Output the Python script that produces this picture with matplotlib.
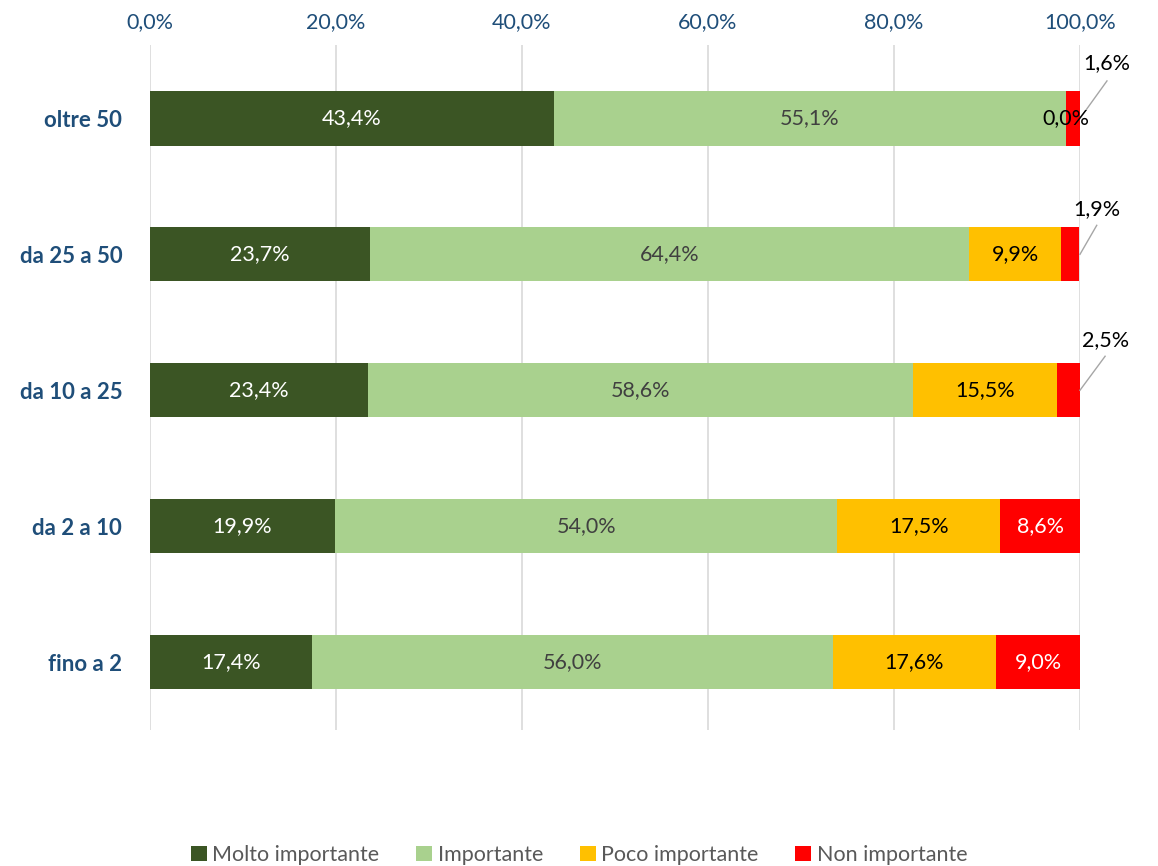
import numpy as np
import matplotlib
matplotlib.use("Agg")
import matplotlib.pyplot as plt

plt.rcParams['font.family'] = ['Lato', 'DejaVu Sans']

categories = ["fino a 2", "da 2 a 10", "da 10 a 25", "da 25 a 50", "oltre 50"]
series_names = ["Molto importante", "Importante", "Poco importante", "Non importante"]
molto = [17.4, 19.9, 23.4, 23.7, 43.4]
importante = [56.0, 54.0, 58.6, 64.4, 55.1]
poco = [17.6, 17.5, 15.5, 9.9, 0.0]
non = [9.0, 8.6, 2.5, 1.9, 1.6]
xticks = [0, 20, 40, 60, 80, 100]

colors = ["#3B5524", "#A9D18E", "#FFC000", "#FF0000"]
label_colors = ["white", "#404040", "black", "white"]
blue = "#1F4E79"
fs = 15.5

fig = plt.figure(figsize=(11.58, 8.66), dpi=100)
ax = fig.add_axes([150/1158, 1-730/866, 930/1158, (730-45)/866])

y = np.arange(len(categories))
left = np.zeros(len(categories))
for vals, name, col, lc in zip([molto, importante, poco, non], series_names, colors, label_colors):
    vals = np.array(vals)
    ax.barh(y, vals, left=left, height=0.4, color=col, label=name, zorder=3)
    for yi, l, v in zip(y, left, vals):
        txt = f"{v:.1f}%".replace(".", ",")
        # tiny red slices get an outside label below
        if name == "Non importante" and v < 5:
            continue
        ax.text(l + v/2, yi, txt, ha="center", va="center", fontsize=fs, color=lc, zorder=5)
    left = left + vals

# small red slices labelled outside with leader lines
outside = {4: (102.9, 4.41, 4 + (118.5-81)/136),
           3: (101.8, 3 + (254-209)/136, 3 + (254-225)/136),
           2: (102.7, 2 + (390-340)/136, 2 + (390-356)/136)}
for idx, (tx, ty, ly) in outside.items():
    v = non[idx]
    ax.plot([100, tx], [y[idx], ly], color="#A6A6A6", lw=1, zorder=4, clip_on=False)
    ax.text(tx, ty, f"{v:.1f}%".replace(".", ","), ha="center", va="center",
            fontsize=fs, color="black", zorder=5)

ax.set_xlim(0, 100)
ax.set_ylim(-0.5, 4.54)
ax.set_xticks(xticks)
ax.set_xticklabels([f"{t:.1f}%".replace(".", ",") for t in xticks], color=blue, fontsize=fs)
ax.xaxis.tick_top()
ax.tick_params(axis="x", length=0, pad=9)
ax.set_yticks(y)
ax.set_yticklabels(categories, color=blue, fontsize=fs + 0.5, fontweight="bold")
ax.tick_params(axis="y", length=0, pad=20)
ax.grid(axis="x", color="#D9D9D9", lw=1.2, zorder=0)
for s in ax.spines.values():
    s.set_visible(False)

fig.legend(loc="center", bbox_to_anchor=(0.5, 1-855/866), ncol=4, frameon=False,
           fontsize=15.5, handlelength=0.75, handleheight=0.75, handletextpad=0.25,
           columnspacing=1.7, labelcolor="#595959")

fig.savefig("out.png", dpi=100)
